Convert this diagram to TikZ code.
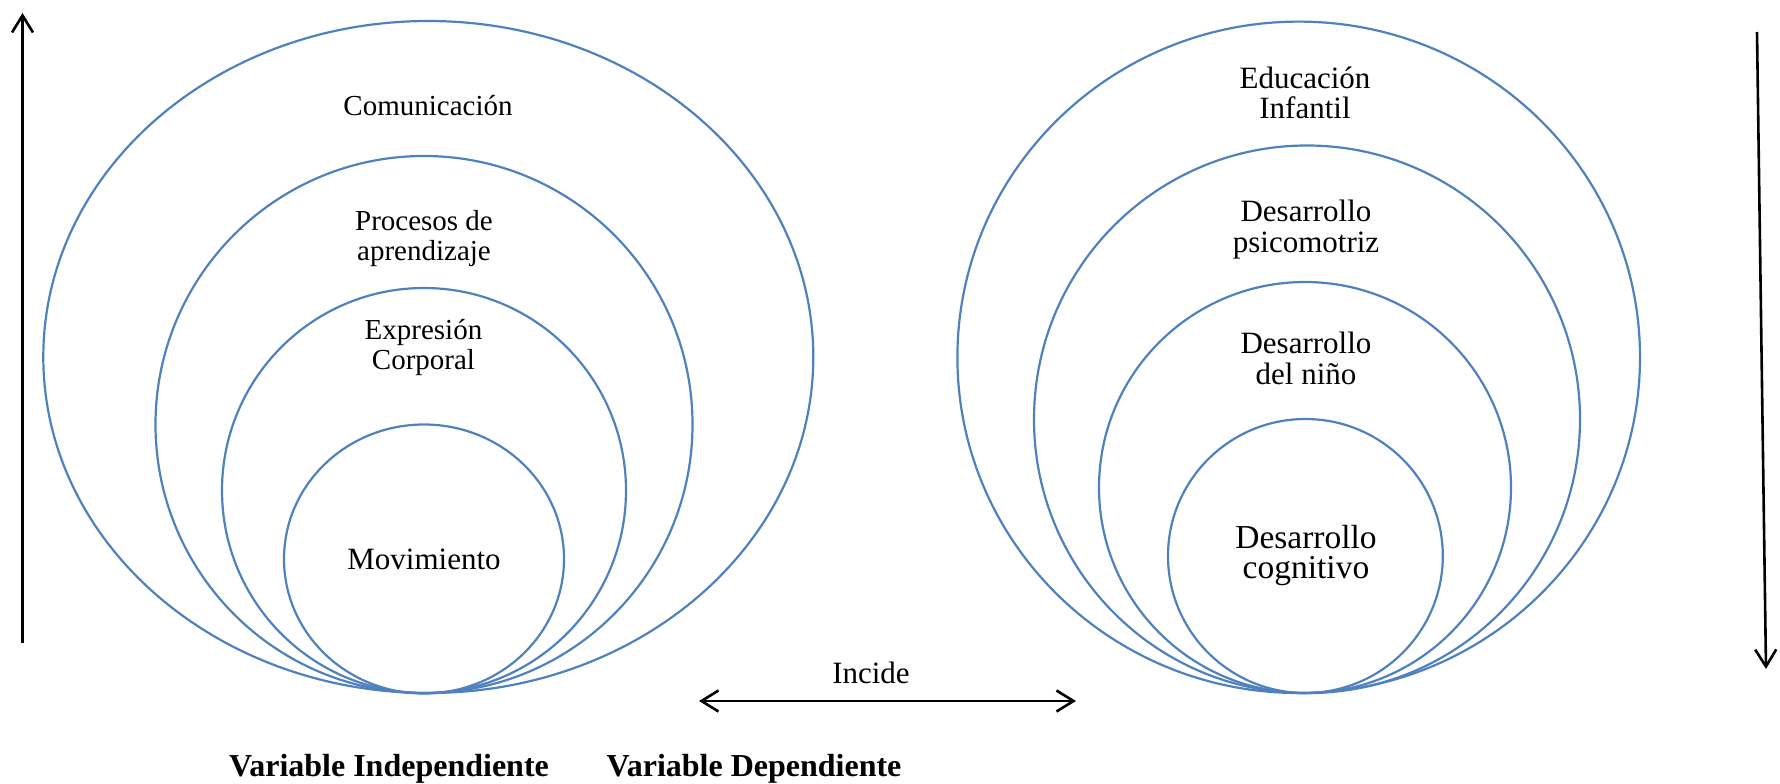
\documentclass[tikz,border=0pt]{standalone}
\usepackage{fontspec}
\setmainfont{Liberation Serif}
\usetikzlibrary{arrows.meta}
\definecolor{azul}{HTML}{4F81BD}

\begin{document}
\begin{tikzpicture}[x=1pt, y=-1pt, >={Straight Barb[length=17pt,width=21pt]},
		circulo/.style={draw=azul, line width=2.2pt},
		flecha/.style={line width=2.6pt},
		texto/.style={align=center, anchor=base, font=\fontsize{29}{30}\selectfont},
		textoder/.style={align=center, anchor=base, font=\fontsize{31}{30.5}\selectfont},
		titulo/.style={anchor=base, font=\fontsize{32}{34}\selectfont\bfseries}]
		
		\useasboundingbox (0,0) rectangle (1780,784);
		
		% Circulos de la variable independiente
		\foreach \cx/\cy/\rx/\ry in {428.3/357/385/336, 424/424.5/268.5/268.5, 424/490.5/202/202.5, 424/559/140/134.5}
		\draw [circulo] (\cx,\cy) ellipse [x radius=\rx, y radius=\ry];
		
		% Circulos de la variable dependiente
		\foreach \cx/\cy/\rx/\ry in {1298.7/357.3/341.3/335.7, 1307/419.3/273/273.8, 1305/487.5/206/205.5, 1305.4/556/137.4/137}
		\draw [circulo] (\cx,\cy) ellipse [x radius=\rx, y radius=\ry];
		
		% Textos de la variable independiente (base = ultima linea)
		\node [texto] (comunicacion) at (428,115) {Comunicación};
		\node [texto] (procesos) at (424,260) {Procesos de\\aprendizaje};
		\node [texto] (expresion) at (423.5,369) {Expresión\\Corporal};
		\node [textoder] (movimiento) at (424,569) {Movimiento};
		
		% Textos de la variable dependiente
		\node [textoder] (educacion) at (1305,118.5) {Educación\\Infantil};
		\node [textoder] (psicomotriz) at (1306,252) {Desarrollo\\psicomotriz};
		\node [textoder] (nino) at (1306,384) {Desarrollo\\del niño};
		\node [textoder, font=\fontsize{33.5}{30.5}\selectfont] (cognitivo) at (1306,578.5) {Desarrollo\\cognitivo};
		
		% Flechas verticales
		\coordinate (izq-ini) at (22.5,643);
		\coordinate (izq-fin) at (22.5,13);
		\coordinate (der-ini) at (1757,32);
		\coordinate (der-fin) at (1766,669);
		\draw [flecha, ->] (izq-ini) -- (izq-fin);
		\draw [flecha, ->] (der-ini) -- (der-fin);
		
		% Relacion entre variables
		\coordinate (incide-izq) at (699,701);
		\coordinate (incide-der) at (1076,701);
		\draw [flecha, <->] (incide-izq) -- (incide-der);
		\node [textoder] (incide) at (871,683) {Incide};
		
		% Nombres de las variables
		\node [titulo] (vi) at (389,776) {Variable Independiente};
		\node [titulo] (vd) at (754,776) {Variable Dependiente};
		
	\end{tikzpicture}
\end{document}
